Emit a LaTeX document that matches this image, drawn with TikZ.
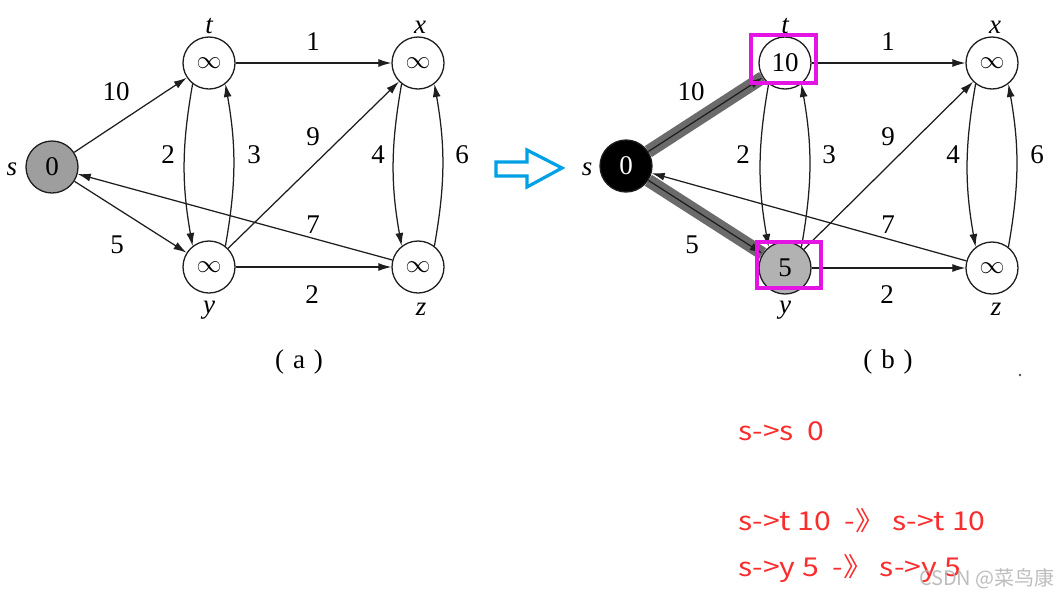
\documentclass[tikz,border=0pt]{standalone}
\usepackage{fontspec}
\setmainfont{Liberation Serif}
\newfontfamily\cjk{Noto Sans CJK SC}
\newfontfamily\cjkw[FakeStretch=1.16]{Noto Sans CJK SC}
\usetikzlibrary{arrows.meta}
\definecolor{redt}{RGB}{250,45,45}
\definecolor{mag}{RGB}{228,20,228}
\definecolor{blu}{RGB}{0,160,230}
\definecolor{ink}{RGB}{30,30,30}
\begin{document}
\begin{tikzpicture}[x=1pt,y=1pt,
  nd/.style={circle, draw=ink, line width=1.3pt, minimum size=52pt, inner sep=0pt, font=\fontsize{27}{29}\selectfont},
  edg/.style={draw=ink, line width=1.25pt, -{Latex[length=13pt,width=8pt]}},
  lbl/.style={font=\fontsize{27}{29}\selectfont, anchor=base, inner sep=0pt},
  nm/.style={font=\fontsize{27}{29}\selectfont\itshape, anchor=base, inner sep=0pt},
  captxt/.style={font=\fontsize{27}{29}\selectfont, anchor=base, inner sep=0pt},
  redtxt/.style={font=\cjkw\fontsize{26}{28}\selectfont, text=redt, anchor=base west, inner sep=0pt},
  hl/.style={draw=black!58, line width=13pt},
  magbox/.style={draw=mag, line width=3.5pt}
]
\useasboundingbox (0,0) rectangle (1059,-595);
\fill[white] (0,0) rectangle (1059,-595);

% ---------- graph (a) ----------
\node[nd, fill=black!38] (sa) at (52,-167) {0};
\node[nd] (ta) at (209,-63) {$\infty$};
\node[nd] (xa) at (418,-63) {$\infty$};
\node[nd] (ya) at (209,-267) {$\infty$};
\node[nd] (za) at (418,-267) {$\infty$};

\node[nm] (lsa) at (12,-175) {s};
\node[nm] (lta) at (209,-33) {t};
\node[nm] (lxa) at (420,-33) {x};
\node[nm] (lya) at (209,-313) {y};
\node[nm] (lza) at (421,-315) {z};

\draw[edg] (sa) -- (ta);
\draw[edg] (sa) -- (ya);
\draw[edg] (ta) -- (xa);
\draw[edg] (ya) -- (za);
\draw[edg] (ya) -- (xa);
\draw[edg] (za) -- (sa);
\draw[edg] (ta.-128) to[bend right=10] (ya.128);
\draw[edg] (ya.52) to[bend right=10] (ta.-52);
\draw[edg] (xa.-128) to[bend right=10] (za.128);
\draw[edg] (za.52) to[bend right=10] (xa.-52);

\node[lbl] (wa1) at (116,-100) {10};
\node[lbl] (wa2) at (313,-50) {1};
\node[lbl] (wa3) at (168,-163) {2};
\node[lbl] (wa4) at (254,-163) {3};
\node[lbl] (wa5) at (313,-145) {9};
\node[lbl] (wa6) at (378,-163) {4};
\node[lbl] (wa7) at (462,-163) {6};
\node[lbl] (wa8) at (313,-233) {7};
\node[lbl] (wa9) at (117,-253) {5};
\node[lbl] (wa10) at (312,-303) {2};
\node[captxt] (capa) at (299,-368) {(\kern9pt a\kern9pt)};

% ---------- blue arrow ----------
\draw[blu, line width=3.2pt, line join=miter]
  (496,-162) -- (527,-162) -- (527,-150) -- (562,-168) -- (527,-187) -- (527,-176) -- (496,-176) -- cycle;

% ---------- graph (b) ----------
\node[nd, fill=black, text=white] (sb) at (626,-166) {0};
\node[nd] (tb) at (785,-63) {10};
\node[nd] (xb) at (992,-63) {$\infty$};
\node[nd, fill=black!30] (yb) at (785,-268) {5};
\node[nd] (zb) at (992,-268) {$\infty$};

\node[nm] (lsb) at (587,-175) {s};
\node[nm] (ltb) at (785,-33) {t};
\node[nm] (lxb) at (995,-33) {x};
\node[nm] (lyb) at (785,-313) {y};
\node[nm] (lzb) at (996,-315) {z};

\draw[hl] (sb) -- (tb);
\draw[hl] (sb) -- (yb);
\draw[edg] (sb) -- (tb);
\draw[edg] (sb) -- (yb);
\draw[edg] (tb) -- (xb);
\draw[edg] (yb) -- (zb);
\draw[edg] (yb) -- (xb);
\draw[edg] (zb) -- (sb);
\draw[edg] (tb.-128) to[bend right=10] (yb.128);
\draw[edg] (yb.52) to[bend right=10] (tb.-52);
\draw[edg] (xb.-128) to[bend right=10] (zb.128);
\draw[edg] (zb.52) to[bend right=10] (xb.-52);

\node[lbl] (wb1) at (691,-100) {10};
\node[lbl] (wb2) at (888,-50) {1};
\node[lbl] (wb3) at (743,-163) {2};
\node[lbl] (wb4) at (829,-163) {3};
\node[lbl] (wb5) at (888,-145) {9};
\node[lbl] (wb6) at (953,-163) {4};
\node[lbl] (wb7) at (1037,-163) {6};
\node[lbl] (wb8) at (888,-233) {7};
\node[lbl] (wb9) at (692,-253) {5};
\node[lbl] (wb10) at (887,-303) {2};
\node[captxt] (capb) at (888,-368) {(\kern9pt b\kern9pt)};

\draw[magbox] (751,-35) rectangle (816,-83);
\draw[magbox] (757,-242) rectangle (821,-288);

\fill[black!70] (1020,-375) circle (1.3pt);

% ---------- red text ----------
\node[redtxt] (r1) at (738,-440) {s->s\ \ 0};
\node[redtxt] (r2) at (738,-530) {s->t 10\ \ -》 s->t 10};
\node[redtxt] (r3) at (738,-576) {s->y 5\ \ -》 s->y 5};

\node[font=\cjk\fontsize{20}{22}\selectfont, text=black!30, opacity=0.85, anchor=base east, inner sep=0pt] (wm) at (1055,-585) {CSDN @菜鸟康};
\end{tikzpicture}
\end{document}
